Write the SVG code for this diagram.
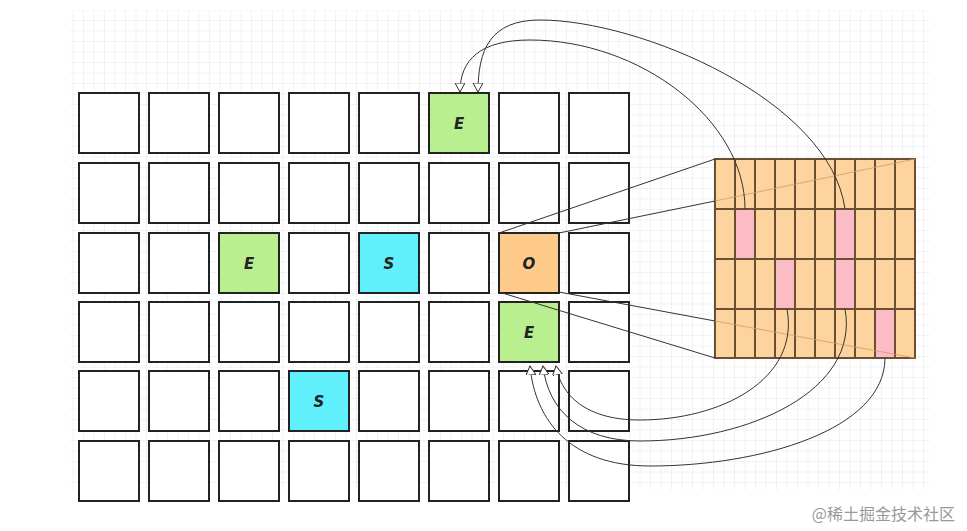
<svg xmlns="http://www.w3.org/2000/svg" width="967" height="531" viewBox="0 0 967 531">
<style>
.c{fill:#fff;stroke:#222;stroke-width:2}
.g{fill:#b9ef8f}.b{fill:#5ff0fb}.o{fill:#ffcb8a}
.t{font-family:"DejaVu Sans",sans-serif;font-weight:bold;font-style:italic;font-size:15px;fill:#222;text-anchor:middle}
.k{fill:none;stroke:#333;stroke-width:1}
.r{fill:none;stroke:#6b4f35;stroke-width:2}
</style>
<defs>
<pattern id="bg" width="10.5" height="10.5" patternUnits="userSpaceOnUse"><path d="M10.5 0V10.5H0" fill="none" stroke="#e6e6e6" stroke-width="1"/></pattern>
<marker id="a" markerWidth="10" markerHeight="12" refX="9" refY="5" orient="auto" markerUnits="userSpaceOnUse"><path d="M0,0 L9,5 L0,10 z" fill="#fff" stroke="#333"/></marker>
</defs>
<rect width="967" height="531" fill="#fff"/>
<rect x="70" y="10" width="860" height="480" fill="url(#bg)"/>
<g id="grid">
<g id="r0"><rect class="c" x="79" y="93" width="60" height="60"/><rect class="c" x="149" y="93" width="60" height="60"/><rect class="c" x="219" y="93" width="60" height="60"/><rect class="c" x="289" y="93" width="60" height="60"/><rect class="c" x="359" y="93" width="60" height="60"/><rect class="c" x="499" y="93" width="60" height="60"/><rect class="c" x="569" y="93" width="60" height="60"/></g>
<g id="r1"><rect class="c" x="79" y="163" width="60" height="60"/><rect class="c" x="149" y="163" width="60" height="60"/><rect class="c" x="219" y="163" width="60" height="60"/><rect class="c" x="289" y="163" width="60" height="60"/><rect class="c" x="359" y="163" width="60" height="60"/><rect class="c" x="429" y="163" width="60" height="60"/><rect class="c" x="499" y="163" width="60" height="60"/><rect class="c" x="569" y="163" width="60" height="60"/></g>
<g id="r2"><rect class="c" x="79" y="233" width="60" height="60"/><rect class="c" x="149" y="233" width="60" height="60"/><rect class="c" x="289" y="233" width="60" height="60"/><rect class="c" x="429" y="233" width="60" height="60"/><rect class="c" x="569" y="233" width="60" height="60"/></g>
<g id="r3"><rect class="c" x="79" y="302" width="60" height="60"/><rect class="c" x="149" y="302" width="60" height="60"/><rect class="c" x="219" y="302" width="60" height="60"/><rect class="c" x="289" y="302" width="60" height="60"/><rect class="c" x="359" y="302" width="60" height="60"/><rect class="c" x="429" y="302" width="60" height="60"/><rect class="c" x="569" y="302" width="60" height="60"/></g>
<g id="r4"><rect class="c" x="79" y="371" width="60" height="60"/><rect class="c" x="149" y="371" width="60" height="60"/><rect class="c" x="219" y="371" width="60" height="60"/><rect class="c" x="359" y="371" width="60" height="60"/><rect class="c" x="429" y="371" width="60" height="60"/><rect class="c" x="499" y="371" width="60" height="60"/><rect class="c" x="569" y="371" width="60" height="60"/></g>
<g id="r5"><rect class="c" x="79" y="441" width="60" height="60"/><rect class="c" x="149" y="441" width="60" height="60"/><rect class="c" x="219" y="441" width="60" height="60"/><rect class="c" x="289" y="441" width="60" height="60"/><rect class="c" x="359" y="441" width="60" height="60"/><rect class="c" x="429" y="441" width="60" height="60"/><rect class="c" x="499" y="441" width="60" height="60"/><rect class="c" x="569" y="441" width="60" height="60"/></g>
</g>
<g id="n-e1"><rect class="c g" x="429" y="93" width="60" height="60"/><text class="t" x="459" y="129">E</text></g>
<g id="n-e2"><rect class="c g" x="219" y="233" width="60" height="60"/><text class="t" x="249" y="269">E</text></g>
<g id="n-s1"><rect class="c b" x="359" y="233" width="60" height="60"/><text class="t" x="389" y="269">S</text></g>
<g id="n-o"><rect class="c o" x="499" y="233" width="60" height="60"/><text class="t" x="529" y="269">O</text></g>
<g id="n-e3"><rect class="c g" x="499" y="302" width="60" height="60"/><text class="t" x="529" y="338">E</text></g>
<g id="n-s2"><rect class="c b" x="289" y="371" width="60" height="60"/><text class="t" x="319" y="407">S</text></g>
<g id="table">
<rect x="715" y="159" width="200" height="199" fill="#fdd39e"/>
<rect x="735" y="209" width="20" height="50" fill="#fbbcc6"/>
<rect x="835" y="209" width="20" height="100" fill="#fbbcc6"/>
<rect x="775" y="259" width="20" height="50" fill="#fbbcc6"/>
<rect x="875" y="309" width="20" height="49" fill="#fbbcc6"/>
<path class="r" d="M715 159H915V358H715Z M715 209H915 M715 259H915 M715 309H915 M735 159V358 M755 159V358 M775 159V358 M795 159V358 M815 159V358 M835 159V358 M855 159V358 M875 159V358 M895 159V358"/>
</g>
<g id="connectors">
<path class="k" d="M499 233L715 159 M559 233L715 201 M499 292L715 358 M559 292L715 321"/>
<path d="M715 201L915 159 M715 321L915 358" stroke="#d99a5a" stroke-width="0.8" fill="none"/>
<path class="k" marker-end="url(#a)" d="M745 209C745 120 640 40 530 40C480 40 460 60 460 92"/>
<path class="k" marker-end="url(#a)" d="M845 209C830 100 640 20 540 20C490 20 478 50 478 92"/>
<path class="k" marker-end="url(#a)" d="M787 309C800 380 720 420 640 420C580 420 560 390 556 366"/>
<path class="k" marker-end="url(#a)" d="M845 309C860 390 750 441 640 441C580 441 548 410 543 366"/>
<path class="k" marker-end="url(#a)" d="M885 358C885 430 760 466 650 466C570 466 535 420 530 366"/>
</g>
<text x="955" y="520" font-family="'Noto Sans CJK SC',sans-serif" font-size="16" fill="#999" text-anchor="end">@稀土掘金技术社区</text>
</svg>
